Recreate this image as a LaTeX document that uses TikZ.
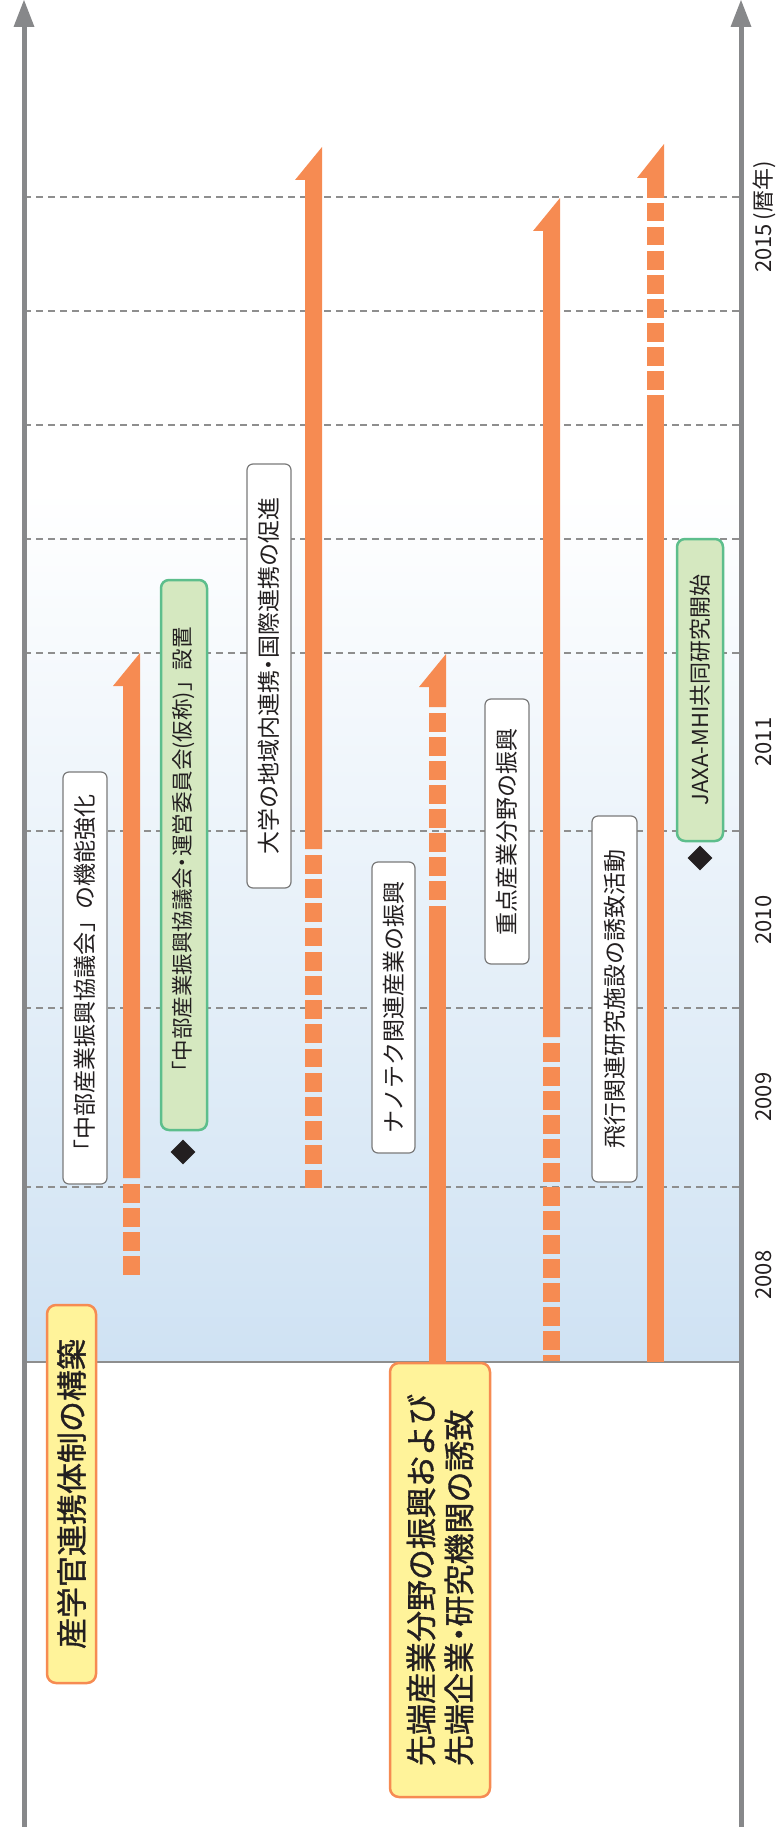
\documentclass[tikz,border=0pt]{standalone}
\usepackage{fontspec}
\setmainfont{Noto Sans CJK JP}
\newfontfamily\cjkmed{Noto Sans CJK JP}[FakeBold=1.1]
\usetikzlibrary{shapes.geometric}
\definecolor{orng}{HTML}{F68B52}
\definecolor{yfill}{HTML}{FFF39A}
\definecolor{gfill}{HTML}{D5E8C0}
\definecolor{gborder}{HTML}{5DBE8C}
\definecolor{boxgray}{HTML}{7A7A7A}
\definecolor{gridgray}{HTML}{8E8E8E}
\definecolor{axisgray}{HTML}{87888A}
\definecolor{bandblue}{HTML}{CFE2F3}
\definecolor{txt}{HTML}{231F20}
\newcommand{\ndot}{\makebox[0.5em]{・}}
\tikzset{
  wbox/.style={draw=boxgray, fill=white, line width=1.2pt, rounded corners=6pt, rotate=90, inner sep=0pt, font=\fontsize{23}{27}\selectfont, text=txt},
  gbox/.style={draw=gborder, fill=gfill, line width=2.5pt, rounded corners=8pt, rotate=90, inner sep=0pt, font=\fontsize{21.5}{25}\selectfont, text=txt},
  ybox/.style={draw=orng, fill=yfill, line width=2.5pt, rounded corners=9pt, rotate=90, inner sep=0pt, font=\cjkmed\fontsize{31}{38}\selectfont, text=txt},
  yearlbl/.style={rotate=90, font=\fontsize{22}{26}\selectfont, text=txt, inner sep=0pt},
  gridline/.style={draw=gridgray, line width=1.2pt, dash pattern=on 7pt off 5pt},
  seg/.style={draw=orng, line width=17pt},
  dseg/.style={seg, dash pattern=on 18.5pt off 5.5pt},
  diam/.style={diamond, fill=txt, minimum size=25pt, inner sep=0pt},
  axisline/.style={draw=axisgray, line width=5pt}
}
\begin{document}
\begin{tikzpicture}[x=1pt,y=-1pt]
\useasboundingbox (0,0) rectangle (778,1827);
% background band
\shade[top color=white, bottom color=bandblue] (24,490) rectangle (741,1362);
\draw[draw=gridgray, line width=1.5pt] (24,1362) -- (741,1362);
% grid lines
\foreach \yy in {197,311,425,539,653,831,1008,1187}
  \draw[gridline] (24,\yy) -- (741,\yy);
% arrow C
\fill[orng] (123,686) -- (113,686) -- (140,653) -- (140,1178) -- (123,1178) -- cycle;
\draw[dseg] (131.5,1184) -- (131.5,1276);
% arrow E
\fill[orng] (305,180) -- (295,180) -- (322,147) -- (322,849) -- (305,849) -- cycle;
\draw[seg, dash pattern=on 18.8pt off 5.4pt] (313.5,855) -- (313.5,1187.5);
% arrow H
\fill[orng] (429,687) -- (419,687) -- (446,654) -- (446,707) -- (429,707) -- cycle;
\draw[dseg] (437.5,713) -- (437.5,899.5);
\draw[seg] (437.5,906) -- (437.5,1362);
% arrow J
\fill[orng] (543,231) -- (533,231) -- (560,198) -- (560,1037) -- (543,1037) -- cycle;
\draw[dseg] (551.5,1043) -- (551.5,1361);
% arrow L
\fill[orng] (647,178) -- (637,178) -- (664,144) -- (664,198) -- (647,198) -- cycle;
\draw[dseg] (655.5,203) -- (655.5,389.5);
\draw[seg] (655.5,395) -- (655.5,1362);
% boxes
\node[ybox, minimum width=378pt, minimum height=49pt] (A) at (71.5,1494) {産学官連携体制の構築};
\node[ybox, minimum width=434pt, minimum height=100pt, align=left] (B) at (440,1580) {先端産業分野の振興および\\先端企業\ndot 研究機関の誘致};
\node[wbox, minimum width=412pt, minimum height=44pt] (C) at (85,978) {「中部産業振興協議会」の機能強化};
\node[gbox, minimum width=550pt, minimum height=46pt] (D) at (184,855) {「中部産業振興協議会\ndot 運営委員会(仮称)」設置};
\node[wbox, minimum width=424pt, minimum height=44pt] (F) at (269,676) {大学の地域内連携\ndot 国際連携の促進};
\node[wbox, minimum width=291pt, minimum height=43pt] (G) at (393.5,1007.5) {ナノテク関連産業の振興};
\node[wbox, minimum width=265pt, minimum height=44pt] (I) at (507,831.5) {重点産業分野の振興};
\node[wbox, minimum width=366pt, minimum height=45pt] (K) at (614.5,999) {飛行関連研究施設の誘致活動};
\node[gbox, minimum width=302pt, minimum height=46pt, font=\fontsize{22}{26}\selectfont] (M) at (700,690) {JAXA-MHI共同研究開始};
% diamonds
\node[diam] (dD) at (183,1152) {};
\node[diam] (dM) at (700,858) {};
% axes
\draw[axisline] (24,1827) -- (24,24);
\fill[axisgray] (13.5,27) -- (34.5,27) -- (24,0) -- cycle;
\draw[axisline] (741,1827) -- (741,24);
\fill[axisgray] (730.5,27) -- (751.5,27) -- (741,0) -- cycle;
% year labels
\node[yearlbl] (y08) at (764,1275) {2008};
\node[yearlbl] (y09) at (764,1097) {2009};
\node[yearlbl] (y10) at (764,920) {2010};
\node[yearlbl] (y11) at (764,742) {2011};
\node[yearlbl, anchor=west] (y15) at (764,273) {2015\,(暦年)};
\end{tikzpicture}
\end{document}
